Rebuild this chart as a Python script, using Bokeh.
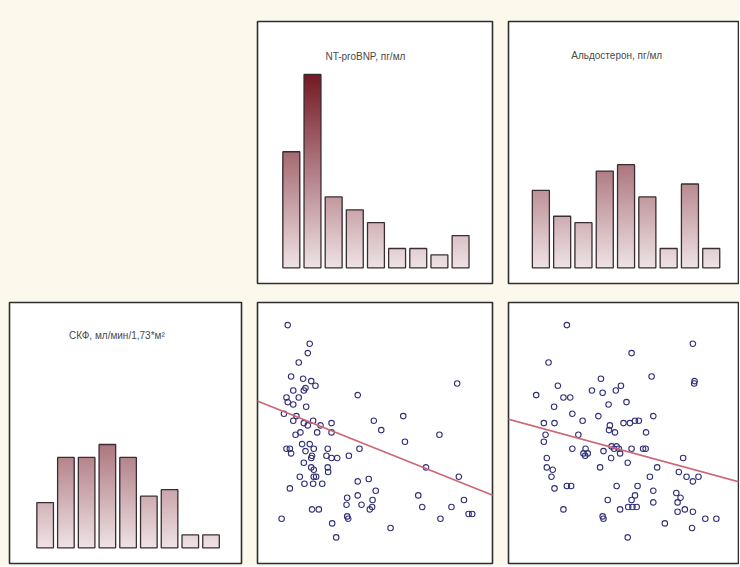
import numpy as np
from bokeh.plotting import figure
from bokeh.models import Range1d, Label, Slope, Spacer
from bokeh.layouts import column, row
from bokeh.embed import file_html
from bokeh.resources import INLINE

# ---------------- data ----------------
# histogram counts (9 bins each)
nt_bins = [50, 150, 250, 350, 450, 550, 650, 750, 850]          # NT-proBNP, bin centres (pg/ml)
nt_counts = [18, 30, 11, 9, 7, 3, 3, 2, 5]
ald_bins = [25, 75, 125, 175, 225, 275, 325, 375, 425]          # aldosterone, bin centres (pg/ml)
ald_counts = [12, 8, 7, 15, 16, 11, 3, 13, 3]
skf_bins = [25, 35, 45, 55, 65, 75, 85, 95, 105]                # eGFR, bin centres
skf_counts = [7, 14, 14, 16, 14, 8, 9, 2, 2]

# scatter: NT-proBNP (x) vs eGFR (y)
nt_x = [33, 137, 128, 85, 49, 106, 144, 164, 59, 109, 117, 27, 85, 33, 59, 120, 15, 74, 59, 109,
        128, 153, 188, 172, 240, 240, 70, 93, 101, 137, 27, 43, 49, 117, 156, 222, 216, 148, 144, 240,
        267, 322, 109, 144, 156, 222, 224, 156, 167, 90, 43, 112, 153, 196, 364, 440, 475, 579, 587, 372,
        750, 834, 687, 416, 364, 449, 364, 314, 311, 382, 434, 432, 421, 650, 669, 842, 866, 807, 888, 905,
        755, 314, 319, 519, 243, 262, 148, 180, 4]
nt_y = [110, 102, 98, 94, 88, 87, 86, 84, 82, 82, 83, 79, 79, 77, 76, 75, 72, 71, 69, 68,
        67, 69, 67, 64, 68, 64, 63, 64, 59, 59, 57, 57, 55, 56, 57, 57, 54, 54, 53, 53,
        53, 54, 51, 49, 48, 49, 47, 45, 45, 45, 40, 42, 42, 42, 80, 69, 65, 71, 60, 57,
        63, 85, 49, 44, 43, 39, 37, 36, 33, 33, 35, 32, 31, 37, 32, 45, 35, 32, 29, 29,
        27, 28, 27, 23, 25, 19, 31, 31, 27]

# scatter: aldosterone (x) vs eGFR (y)
ald_x = [86, 382, 238, 43, 285, 386, 385, 166, 65, 14, 78, 94, 145, 170, 201, 213, 226, 184, 56, 99,
         123, 160, 32, 57, 36, 32, 113, 187, 185, 199, 219, 234, 246, 255, 289, 272, 99, 125, 129, 135,
         130, 172, 191, 197, 203, 208, 190, 211, 238, 265, 271, 229, 164, 298, 39, 39, 53, 50, 57, 86,
         96, 203, 252, 281, 289, 359, 349, 367, 395, 382, 246, 238, 182, 289, 343, 353, 346, 230, 240, 250,
         211, 170, 172, 346, 363, 382, 78, 316, 411, 437, 380, 229]
ald_y = [110, 102, 98, 94, 88, 86, 85, 87, 84, 80, 79, 79, 82, 81, 82, 84, 77, 76, 75, 72,
         69, 71, 68, 68, 63, 60, 63, 67, 65, 64, 68, 68, 69, 69, 71, 64, 57, 55, 54, 55,
         57, 56, 58, 57, 58, 57, 53, 55, 57, 57, 57, 51, 49, 49, 53, 49, 48, 45, 40, 41,
         41, 41, 41, 45, 39, 53, 47, 45, 45, 43, 37, 35, 35, 34, 38, 36, 34, 32, 32, 32,
         31, 28, 27, 30, 31, 30, 31, 25, 27, 27, 23, 19]

# regression lines (eGFR = a + b * x)
nt_fit = (73.4, -0.0363)
ald_fit = (67.1, -0.0496)

titles = ["NT-proBNP, пг/мл", "Альдостерон, пг/мл", "СКФ, мл/мин/1,73*м²"]

# ---------------- style ----------------
CREAM = "#fcf9ec"
FRAME = "#2e2e2e"
DARK = np.array([0x74, 0x18, 0x24], dtype=float)
LIGHT = np.array([0xee, 0xe2, 0xe5], dtype=float)
VMAX = 30.0

NT_XR = (-110, 1001)
ALD_XR = (-51, 489)
SKF_R = (7.8, 119.7)


def make_fig(w, h, xr, yr, bl, br, bt, bb):
    p = figure(width=w, height=h, x_range=Range1d(*xr), y_range=Range1d(*yr),
               x_axis_location=None, y_axis_location=None, title=None,
               output_backend="svg", toolbar_location=None)
    p.grid.visible = False
    p.min_border = 0
    p.min_border_left = bl
    p.min_border_right = br
    p.min_border_top = bt
    p.min_border_bottom = bb
    p.background_fill_color = "white"
    p.border_fill_color = CREAM
    p.outline_line_color = FRAME
    p.outline_line_width = 1.6
    return p


def hex_col(v):
    t = min(max(v / VMAX, 0.0), 1.0)
    c = LIGHT + (DARK - LIGHT) * t
    return "#%02x%02x%02x" % tuple(int(round(x)) for x in c)


def histogram(p, centres, counts, bin_w, title, tx, ty):
    # vertical gradient fill: overlapping quads from 0 up to each level,
    # drawn from the highest level down so each band keeps its own colour
    step = 0.2
    half = bin_w * 0.4
    L, R, T, C = [], [], [], []
    for c, h in zip(centres, counts):
        levels = np.arange(h, 0, -step)
        for lv in levels:
            L.append(c - half)
            R.append(c + half)
            T.append(lv)
            C.append(hex_col(lv - step / 2))
    order = np.argsort(-np.array(T), kind="stable")
    L = [L[i] for i in order]
    R = [R[i] for i in order]
    T = [T[i] for i in order]
    C = [C[i] for i in order]
    p.quad(left=L, right=R, bottom=0, top=T, fill_color=C, line_color=None)
    p.quad(left=[c - half for c in centres], right=[c + half for c in centres],
           bottom=0, top=counts, fill_color=None, line_color="#3a2e30", line_width=1.3)
    p.add_layout(Label(x=tx, y=ty, text=title, text_align="center", text_baseline="middle",
                       text_font="Liberation Sans", text_font_size="10px", text_color="#4a4a4a"))


def scatter(p, xs, ys, fit):
    p.scatter(xs, ys, marker="circle", size=5.5, fill_color=None,
              line_color="#303078", line_width=1.1)
    p.add_layout(Slope(gradient=fit[1], y_intercept=fit[0], line_color="#cc6676", line_width=1.6))


# column widths: 249 / 251 / 239 ; row heights: 292 / 274
# top row
spacer = Spacer(width=249, height=292, styles={"background-color": CREAM})
p_nt = make_fig(251, 292, NT_XR, (-2.43, 38.2), 8, 8, 21, 9)
histogram(p_nt, nt_bins, nt_counts, 100, titles[0], 400, 32.8)
p_ald = make_fig(239, 292, ALD_XR, (-2.43, 38.2), 8, 1, 21, 9)
histogram(p_ald, ald_bins, ald_counts, 50, titles[1], 203, 32.9)

# bottom row
p_skf = make_fig(249, 274, SKF_R, (-2.43, 38.0), 9, 8, 10, 3)
histogram(p_skf, skf_bins, skf_counts, 10, titles[2], 59.6, 32.9)
s_nt = make_fig(251, 274, NT_XR, SKF_R, 8, 8, 10, 3)
scatter(s_nt, nt_x, nt_y, nt_fit)
s_ald = make_fig(239, 274, ALD_XR, SKF_R, 8, 1, 10, 3)
scatter(s_ald, ald_x, ald_y, ald_fit)

p = column(row(spacer, p_nt, p_ald), row(p_skf, s_nt, s_ald),
           styles={"background-color": CREAM})

open("out.html", "w").write(file_html(p, INLINE))
